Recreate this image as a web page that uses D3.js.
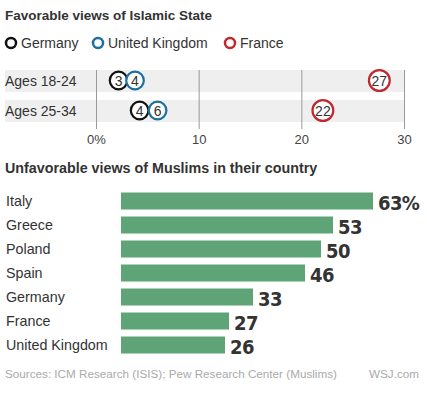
<!DOCTYPE html>
<html>
<head>
<meta charset="utf-8">
<script src="https://cdn.jsdelivr.net/npm/d3@7"></script>
<style>
  body { margin: 0; background: #fff; }
  svg { display: block; font-family: "Liberation Sans", Arial, sans-serif; }
</style>
</head>
<body>
<svg id="chart" width="427" height="397"></svg>
<script>
// top chart: favorable views of Islamic State
const age_groups = ["Ages 18-24", "Ages 25-34"]
const series = ["Germany", "United Kingdom", "France"]
const germany = [2.2, 4.25]
const united_kingdom = [3.8, 6]
const france = [27.6, 22.1]
const germany_labels = ["3", "4"]
const united_kingdom_labels = ["4", "6"]
const france_labels = ["27", "22"]
const top_ticks = [0, 10, 20, 30]

// bottom chart: unfavorable views of Muslims
const countries = ["Italy", "Greece", "Poland", "Spain", "Germany", "France", "United Kingdom"]
const unfavorable = [63, 53, 50, 46, 33, 27, 26]

const colors = {"Germany": "#111111", "United Kingdom": "#1d6f9f", "France": "#c1272d"}
const text_color = "#333"

const svg = d3.select("#chart")

// ---- top chart ----
svg.append("text")
  .attr("x", 5).attr("y", 20)
  .attr("font-size", 13.5).attr("font-weight", "bold")
  .attr("fill", text_color)
  .text("Favorable views of Islamic State")

// legend
const legend_x = [11, 98, 230]
series.forEach((s, i) => {
  svg.append("circle")
    .attr("cx", legend_x[i]).attr("cy", 43).attr("r", 5)
    .attr("fill", "white").attr("stroke", colors[s]).attr("stroke-width", 2.5)
  svg.append("text")
    .attr("x", legend_x[i] + 10).attr("y", 48)
    .attr("font-size", 14).attr("fill", text_color)
    .text(s)
})

const x_top = d3.scaleLinear().domain([0, 30]).range([96, 404])
const y_top = d3.scaleBand().domain(age_groups).range([66, 126])
  .paddingInner(8 / 30).paddingOuter(4 / 30)

// grey row bands
svg.append("g").selectAll("rect")
  .data(age_groups).enter().append("rect")
  .attr("x", 5)
  .attr("y", d => y_top(d))
  .attr("width", x_top(30) - 5)
  .attr("height", y_top.bandwidth())
  .attr("fill", "#efefef")

// gridlines and ticks
const top_axis = svg.append("g")
  .attr("transform", `translate(0, 129)`)
  .call(d3.axisBottom(x_top).tickValues(top_ticks)
    .tickSize(-59).tickFormat(d => d === 0 ? "0%" : d))
top_axis.select(".domain").remove()
top_axis.selectAll(".tick line").attr("stroke", "#9a9a9a")
top_axis.selectAll(".tick text")
  .attr("font-family", "Liberation Sans, Arial, sans-serif")
  .attr("font-size", 13).attr("fill", "#444").attr("dy", 0).attr("y", 15)

// row labels
svg.append("g").selectAll("text")
  .data(age_groups).enter().append("text")
  .attr("x", 5)
  .attr("y", d => y_top(d) + y_top.bandwidth() / 2 + 5)
  .attr("font-size", 14).attr("fill", text_color)
  .text(d => d)

// dots: Germany first, UK over it, France last
const dot_rows = [
  {name: "Germany", values: germany, labels: germany_labels},
  {name: "United Kingdom", values: united_kingdom, labels: united_kingdom_labels},
  {name: "France", values: france, labels: france_labels},
]
dot_rows.forEach(row => {
  const g = svg.append("g")
  age_groups.forEach((age, i) => {
    const cx = x_top(row.values[i])
    const cy = y_top(age) + y_top.bandwidth() / 2 - 0.5
    // two-digit labels get a slightly bigger ring
    const r = row.labels[i].length > 1 ? 10.4 : 8.8
    g.append("circle")
      .attr("cx", cx).attr("cy", cy).attr("r", r)
      .attr("fill", "white").attr("stroke", colors[row.name]).attr("stroke-width", 2.2)
    g.append("text")
      .attr("x", cx).attr("y", cy + 5)
      .attr("text-anchor", "middle")
      .attr("font-size", 14).attr("fill", text_color)
      .text(row.labels[i])
  })
})

// ---- bottom chart ----
svg.append("text")
  .attr("x", 5).attr("y", 173)
  .attr("font-size", 14.3).attr("font-weight", "bold")
  .attr("fill", text_color)
  .text("Unfavorable views of Muslims in their country")

const x_bot = d3.scaleLinear().domain([0, 63]).range([121, 373])
const y_bot = d3.scaleBand().domain(countries).range([189, 357])
  .paddingInner(7 / 24).paddingOuter(3.5 / 24)

svg.append("g").selectAll("rect")
  .data(countries).enter().append("rect")
  .attr("x", x_bot(0))
  .attr("y", d => y_bot(d))
  .attr("width", (d, i) => x_bot(unfavorable[i]) - x_bot(0))
  .attr("height", y_bot.bandwidth())
  .attr("fill", "#5fa477")

svg.append("g").selectAll("text")
  .data(countries).enter().append("text")
  .attr("x", 6)
  .attr("y", d => y_bot(d) + y_bot.bandwidth() / 2 + 5)
  .attr("font-size", 14.3).attr("fill", text_color)
  .text(d => d)

svg.append("g").selectAll("text")
  .data(countries).enter().append("text")
  .attr("x", (d, i) => x_bot(unfavorable[i]) + 5)
  .attr("y", d => y_bot(d) + y_bot.bandwidth())
  .attr("font-family", "DejaVu Sans Condensed, DejaVu Sans, sans-serif")
  .attr("font-stretch", "condensed")
  .attr("font-size", 20).attr("font-weight", "bold")
  .attr("letter-spacing", -0.6)
  .attr("fill", text_color)
  .text((d, i) => i === 0 ? unfavorable[i] + "%" : unfavorable[i])

// footer
svg.append("text")
  .attr("x", 5).attr("y", 378)
  .attr("font-size", 11.7).attr("fill", "#aaa")
  .text("Sources:  ICM Research (ISIS); Pew Research Center (Muslims)")
svg.append("text")
  .attr("x", 419).attr("y", 378)
  .attr("text-anchor", "end")
  .attr("font-size", 11.7).attr("fill", "#aaa")
  .text("WSJ.com")
</script>
</body>
</html>
